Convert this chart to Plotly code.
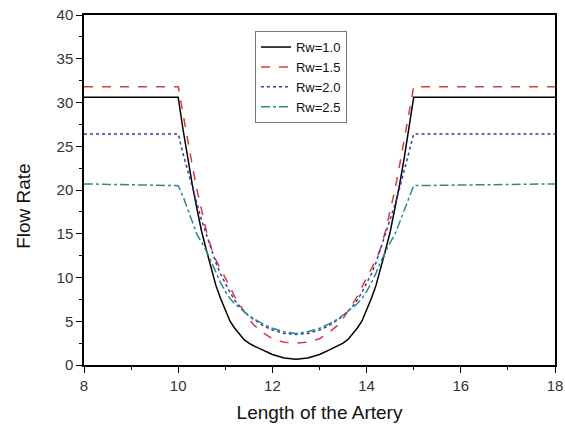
import plotly.graph_objects as go

# Positions along the artery (stenosis between 10 and 15)
x_vals = [8.0, 10.0, 10.1, 10.2, 10.3, 10.4, 10.5, 10.6, 10.7, 10.8, 10.9, 11.0,
          11.1, 11.2, 11.3, 11.4, 11.5, 11.6, 11.8, 12.0, 12.25, 12.5,
          12.75, 13.0, 13.2, 13.4, 13.5, 13.6, 13.7, 13.8, 13.9, 14.0,
          14.1, 14.2, 14.3, 14.4, 14.5, 14.6, 14.7, 14.8, 14.9, 15.0, 18.0]

rw10 = [30.6, 30.6, 27.0, 23.7, 20.6, 17.8, 15.2, 13.1, 11.0, 9.1, 7.6, 6.2,
        5.0, 4.2, 3.5, 2.9, 2.5, 2.2, 1.7, 1.2, 0.8, 0.65,
        0.8, 1.2, 1.7, 2.2, 2.5, 2.9, 3.5, 4.2, 5.0, 6.2,
        7.6, 9.1, 11.0, 13.1, 15.2, 17.8, 20.6, 23.7, 27.0, 30.6, 30.6]
rw15 = [31.8, 31.8, 28.8, 25.7, 22.8, 20.0, 17.5, 15.3, 13.4, 12.0, 11.0, 10.0,
        8.9, 7.8, 6.9, 6.1, 5.3, 4.6, 3.7, 3.0, 2.6, 2.5,
        2.6, 3.0, 3.7, 4.6, 5.3, 6.1, 6.9, 7.8, 8.9, 10.0,
        11.0, 12.0, 13.4, 15.3, 17.5, 20.0, 22.8, 25.7, 28.8, 31.8, 31.8]
rw20 = [26.4, 26.4, 24.2, 22.2, 20.2, 18.3, 16.5, 14.9, 13.3, 11.7, 10.4, 9.3,
        8.3, 7.4, 6.7, 6.1, 5.6, 5.2, 4.5, 4.0, 3.6, 3.5,
        3.6, 4.0, 4.5, 5.2, 5.6, 6.1, 6.7, 7.4, 8.3, 9.3,
        10.4, 11.7, 13.3, 14.9, 16.5, 18.3, 20.2, 22.2, 24.2, 26.4, 26.4]
rw25 = [20.7, 20.5, 19.3, 17.8, 16.3, 14.9, 14.0, 13.0, 11.8, 10.5, 9.4, 8.4,
        7.6, 7.0, 6.5, 6.1, 5.7, 5.3, 4.7, 4.2, 3.8, 3.6,
        3.8, 4.2, 4.7, 5.3, 5.7, 6.1, 6.5, 7.0, 7.6, 8.4,
        9.4, 10.5, 11.8, 13.0, 14.0, 14.9, 16.3, 17.8, 19.3, 20.5, 20.7]

labels = ["Rw=1.0", "Rw=1.5", "Rw=2.0", "Rw=2.5"]
colors = ["#000000", "#d93b3b", "#3b3b9e", "#2a8c8c"]
dashes = ["solid", "dash", "dot", "dashdot"]

fig = go.Figure()
for lab, ys, c, d in zip(labels, [rw10, rw15, rw20, rw25], colors, dashes):
    fig.add_trace(go.Scatter(x=x_vals, y=ys, mode="lines", name=lab,
                             line=dict(color=c, width=1.5, dash=d)))

font_family = "Arial, Liberation Sans, sans-serif"
fig.update_layout(
    width=565, height=428,
    margin=dict(l=84, r=10, t=15, b=63),
    plot_bgcolor="white", paper_bgcolor="white",
    font=dict(family=font_family, color="#222"),
    showlegend=True,
    legend=dict(x=0.363, y=0.954, xanchor="left", yanchor="top",
                bgcolor="white", bordercolor="#777", borderwidth=1,
                font=dict(size=13, color="#111"), tracegroupgap=0),
)
fig.update_xaxes(range=[8, 18], dtick=2, tick0=8, showgrid=False, zeroline=False,
                 automargin=False,
                 showline=True, linecolor="black", linewidth=1.5, mirror=True,
                 ticks="outside", ticklen=6, tickwidth=1.2, tickcolor="black",
                 minor=dict(dtick=1, ticks="outside", ticklen=3, tickcolor="black"),
                 tickfont=dict(size=15, color="#333"),
                 title=dict(text="Length of the Artery", font=dict(size=19, color="#111"), standoff=13))
fig.update_yaxes(range=[0, 40], dtick=5, tick0=0, showgrid=False, zeroline=False,
                 automargin=False,
                 showline=True, linecolor="black", linewidth=1.5, mirror=True,
                 ticks="outside", ticklen=6, tickwidth=1.2, tickcolor="black",
                 minor=dict(dtick=2.5, ticks="outside", ticklen=3, tickcolor="black"),
                 tickfont=dict(size=15, color="#333"))

fig.add_annotation(text="Flow Rate", textangle=-90, xref="paper", yref="paper",
                   x=-0.13, y=0.454, xanchor="center", yanchor="middle", showarrow=False,
                   font=dict(size=19, color="#111"))

fig.write_html("out.html", config={"displayModeBar": False},
               post_script="document.body.style.margin='0';")
